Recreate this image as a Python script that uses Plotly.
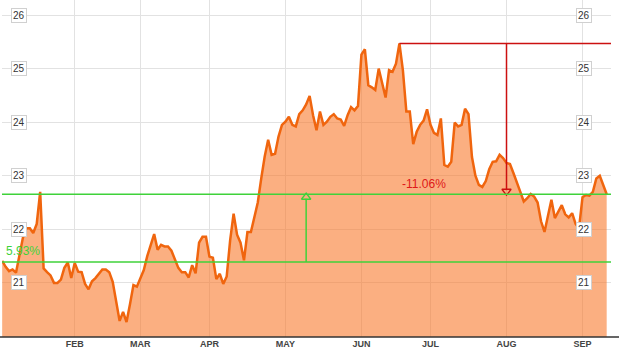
import pandas as pd
import plotly.graph_objects as go

# ---- data ----
holidays = ["2013-01-21", "2013-02-18", "2013-03-29", "2013-05-27", "2013-07-04", "2013-09-02"]
days = [d.strftime("%Y-%m-%d") for d in pd.bdate_range("2013-01-02", "2013-09-12")
        if d.strftime("%Y-%m-%d") not in holidays]

prices = [
    21.41, 21.30, 21.22, 21.25, 21.19, 21.55, 21.84, 22.02, 22.02, 21.93,
    22.10, 22.70, 21.27, 21.20, 21.14, 21.00, 21.00, 21.06, 21.28, 21.38,
    21.09, 21.37, 21.21, 21.20, 20.98, 20.88, 21.03, 21.09, 21.18, 21.25,
    21.25, 21.20, 21.02, 20.65, 20.29, 20.46, 20.27, 20.60, 20.96, 20.93,
    21.07, 21.24, 21.50, 21.73, 21.91, 21.62, 21.71, 21.68, 21.68, 21.60,
    21.42, 21.28, 21.20, 21.20, 21.10, 21.33, 21.18, 21.75, 21.86, 21.86,
    21.49, 21.47, 21.07, 21.17, 20.98, 21.12, 21.80, 22.29, 21.90, 21.75,
    21.42, 21.95, 21.95, 22.24, 22.50, 22.95, 23.36, 23.67, 23.39, 23.41,
    23.73, 23.95, 24.01, 24.10, 23.95, 23.92, 24.15, 24.22, 24.33, 24.49,
    24.13, 23.85, 24.20, 23.95, 24.01, 24.10, 24.15, 24.07, 24.05, 23.93,
    24.13, 24.28, 24.22, 24.30, 25.26, 25.36, 24.69, 24.65, 24.60, 25.00,
    24.72, 24.46, 24.97, 24.94, 25.09, 25.47, 24.97, 24.20, 24.20, 23.59,
    23.82, 23.95, 24.03, 24.24, 23.95, 23.80, 23.76, 24.07, 23.20, 23.17,
    23.26, 23.99, 23.92, 23.95, 24.25, 24.15, 23.35, 23.00, 22.83, 22.79,
    22.90, 23.12, 23.26, 23.27, 23.39, 23.33, 23.24, 23.22, 23.05, 22.89,
    22.70, 22.52, 22.58, 22.66, 22.61, 22.50, 22.15, 21.95, 22.24, 22.55,
    22.21, 22.33, 22.45, 22.28, 22.22, 22.30, 22.10, 22.02, 22.60, 22.64,
    22.63, 22.70, 22.95, 23.00, 22.82, 22.655,
]

month_days = ["2013-02-01", "2013-03-01", "2013-04-01", "2013-05-01",
              "2013-06-03", "2013-07-01", "2013-08-01", "2013-09-03"]
month_labels = ["FEB", "MAR", "APR", "MAY", "JUN", "JUL", "AUG", "SEP"]
y_ticks = [21, 22, 23, 24, 25, 26]

low_level = 21.39
last_level = prices[-1]
high_level = max(prices)
gain_text = "5.93%"
drop_text = "-11.06%"
gain_day = "2013-05-09"
drop_day = "2013-08-01"
high_day = days[prices.index(high_level)]

GREEN = "#3fd23a"
RED = "#cc1010"

fig = go.Figure()
fig.add_trace(go.Scatter(
    x=days, y=prices, mode="lines",
    line=dict(color="#f0650e", width=2.5),
    fill="tozeroy", fillcolor="rgba(249,122,45,0.6)",
    hoverinfo="skip", showlegend=False,
))

gi = days.index(gain_day)
di = days.index(drop_day)
hi = days.index(high_day)

shapes = [
    dict(type="line", xref="paper", yref="y", x0=0, x1=1, y0=last_level, y1=last_level,
         line=dict(color=GREEN, width=1.5)),
    dict(type="line", xref="paper", yref="y", x0=0, x1=1, y0=low_level, y1=low_level,
         line=dict(color=GREEN, width=1.5)),
    dict(type="line", xref="x", yref="y", x0=gi, x1=gi, y0=low_level, y1=22.57,
         line=dict(color=GREEN, width=1.5)),
    dict(type="line", xref="paper", yref="paper", x0=-2 / 609, x1=617 / 609, y0=0, y1=0,
         line=dict(color="#333333", width=1.5)),
    dict(type="line", xref="x", yref="y", x0=hi, x1=176.3, y0=high_level, y1=high_level,
         line=dict(color=RED, width=1.5)),
    dict(type="line", xref="x", yref="y", x0=di, x1=di, y0=high_level, y1=22.73,
         line=dict(color=RED, width=1.5)),
]

fig.add_trace(go.Scatter(
    x=[gain_day], y=[22.60], mode="markers",
    marker=dict(symbol="triangle-up-open", size=8, color=GREEN, line=dict(width=1.5, color=GREEN)),
    hoverinfo="skip", showlegend=False,
))
fig.add_trace(go.Scatter(
    x=[drop_day], y=[22.71], mode="markers",
    marker=dict(symbol="triangle-down-open", size=8, color=RED, line=dict(width=1.3, color=RED)),
    hoverinfo="skip", showlegend=False,
))

annotations = []
for v in y_ticks:
    for xp in (17 / 609, 582 / 609):
        annotations.append(dict(
            xref="paper", yref="y", x=xp, y=v, text=str(v), showarrow=False,
            font=dict(family="Arial, Liberation Sans, sans-serif", size=10, color="#333333"),
            bgcolor="white", bordercolor="#d0d0d0", borderwidth=1, borderpad=1,
            xanchor="center", yanchor="middle",
        ))
annotations.append(dict(
    xref="x", yref="y", x=122.1, y=22.84, text=drop_text, showarrow=False,
    font=dict(family="Arial, Liberation Sans, sans-serif", size=12, color="#e01818"),
    xanchor="center", yanchor="middle",
))
annotations.append(dict(
    xref="x", yref="y", x=0.55, y=21.59, text=gain_text, showarrow=False,
    font=dict(family="Arial, Liberation Sans, sans-serif", size=12, color=GREEN),
    xanchor="left", yanchor="middle",
))

fig.update_layout(
    width=619, height=355,
    margin=dict(l=2, r=8, t=0, b=18),
    paper_bgcolor="white", plot_bgcolor="white",
    shapes=shapes, annotations=annotations,
    xaxis=dict(
        type="category", range=[-0.05, 176.25],
        tickvals=month_days, ticktext=["<b>%s</b>" % m for m in month_labels],
        tickfont=dict(family="Arial, Liberation Sans, sans-serif", size=9, color="#444444"),
        showgrid=True, gridcolor="#e2e2e2", gridwidth=1,
        showline=False, zeroline=False, ticks="",
    ),
    yaxis=dict(
        range=[19.99, 26.28], tickvals=y_ticks, showticklabels=False,
        showgrid=True, gridcolor="#e2e2e2", gridwidth=1,
        zeroline=False, showline=False, ticks="",
    ),
)

fig.write_html("out.html")
